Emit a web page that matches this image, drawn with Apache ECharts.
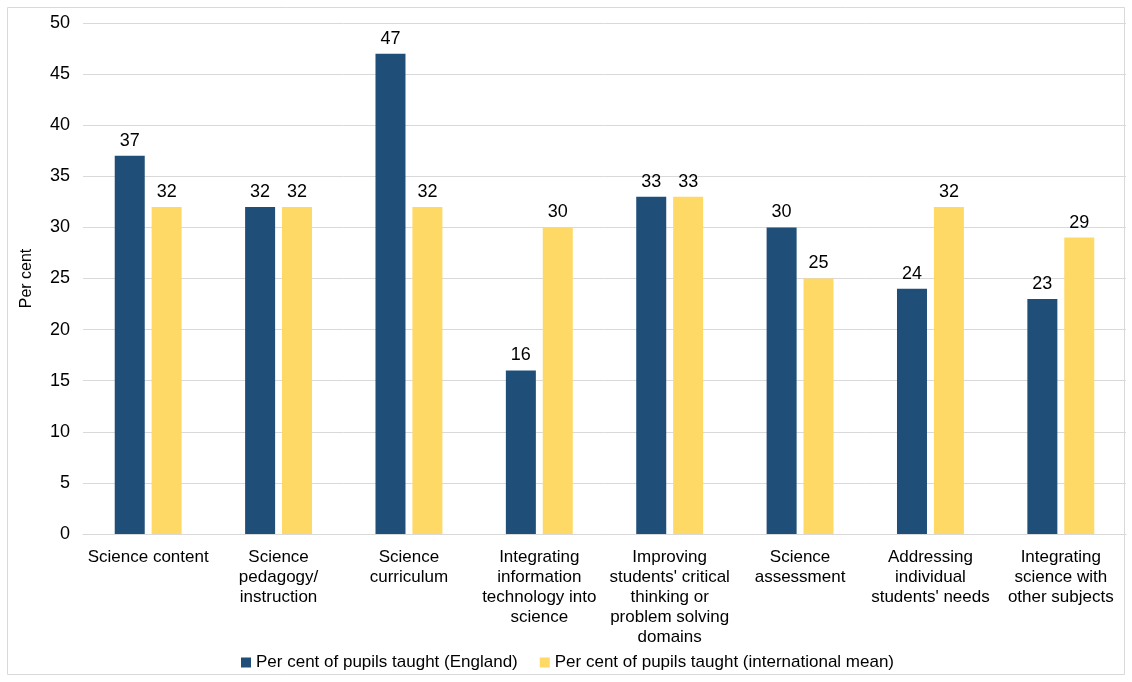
<!DOCTYPE html>
<html><head><meta charset="utf-8">
<script src="https://cdn.jsdelivr.net/npm/echarts@6/dist/echarts.min.js"></script>
<style>html,body{margin:0;padding:0;background:#fff}#c{width:1132px;height:682px}</style>
</head><body><div id="c"></div>
<script>
const categories = [
  "Science content",
  "Science\npedagogy/\ninstruction",
  "Science\ncurriculum",
  "Integrating\ninformation\ntechnology into\nscience",
  "Improving\nstudents' critical\nthinking or\nproblem solving\ndomains",
  "Science\nassessment",
  "Addressing\nindividual\nstudents' needs",
  "Integrating\nscience with\nother subjects"
];
const seriesNames = ["Per cent of pupils taught (England)", "Per cent of pupils taught (international mean)"];
const england = [37, 32, 47, 16, 33, 30, 24, 23];
const international = [32, 32, 32, 30, 33, 25, 32, 29];

const chart = echarts.init(document.getElementById('c'));
const font = 'Liberation Sans, Arial, sans-serif';
chart.setOption({
  animation: false,
  textStyle: {fontFamily: font},
  graphic: [{type: 'rect', shape: {x: 7.5, y: 7.5, width: 1117, height: 667}, style: {fill: 'none', stroke: '#d9d9d9', lineWidth: 1}}],
  grid: {left: 83, right: 6, top: 23, bottom: 148},
  legend: {
    top: 649, left: 236, itemWidth: 10, itemHeight: 10, itemGap: 22, icon: 'rect',
    textStyle: {fontSize: 17, color: '#000', fontFamily: font},
    data: seriesNames
  },
  xAxis: {
    type: 'category', data: categories,
    axisLine: {lineStyle: {color: '#d9d9d9'}}, axisTick: {show: false},
    axisLabel: {color: '#000', fontSize: 17, lineHeight: 20, margin: 13, interval: 0, fontFamily: font}
  },
  yAxis: {
    type: 'value', min: 0, max: 50, interval: 5,
    name: 'Per cent', nameLocation: 'middle', nameGap: 48, nameRotate: 90,
    nameTextStyle: {color: '#000', fontSize: 16, fontFamily: font},
    axisLine: {show: false}, axisTick: {show: false},
    axisLabel: {color: '#000', fontSize: 18, margin: 13, fontFamily: font},
    splitLine: {lineStyle: {color: '#d9d9d9'}}
  },
  series: [
    {name: seriesNames[0], type: 'bar', data: england, barWidth: 30, barGap: '23%', itemStyle: {color: '#1F4E79'},
     label: {show: true, position: 'top', color: '#000', fontSize: 18, distance: 6, fontFamily: font}},
    {name: seriesNames[1], type: 'bar', data: international, barWidth: 30, barGap: '23%', itemStyle: {color: '#FFD966'},
     label: {show: true, position: 'top', color: '#000', fontSize: 18, distance: 6, fontFamily: font}}
  ]
});
</script></body></html>
